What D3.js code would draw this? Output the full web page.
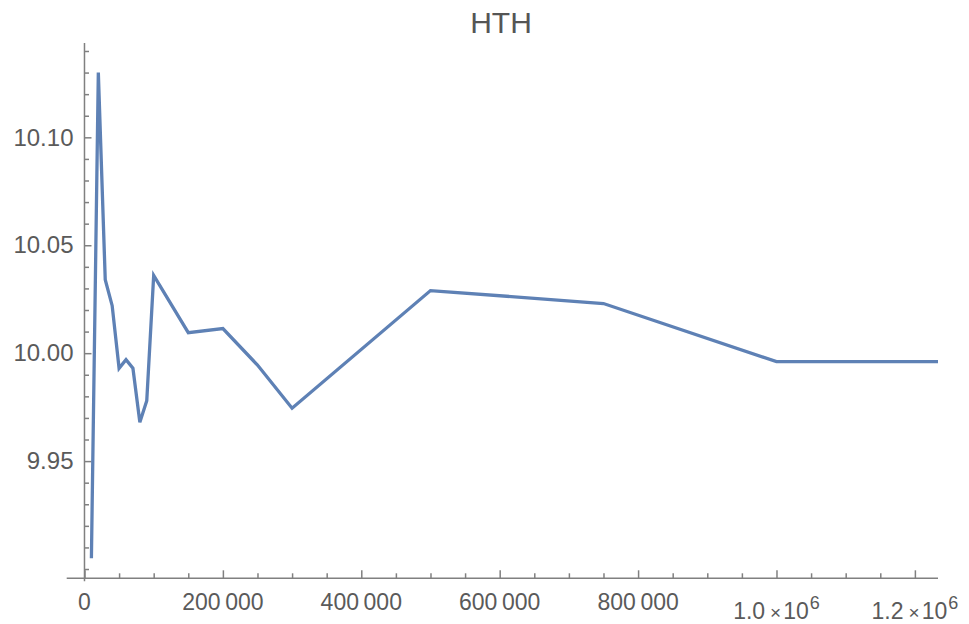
<!DOCTYPE html>
<html>
<head>
<meta charset="utf-8">
<script src="https://cdn.jsdelivr.net/npm/d3@7"></script>
<style>
  html, body { margin: 0; padding: 0; background: #fff; }
  svg { display: block; font-family: "Liberation Sans", Arial, sans-serif; }
</style>
</head>
<body>
<svg id="chart" width="969" height="624"></svg>
<script>
var d3 = globalThis.d3;

// data
const sampleSizes = [10000, 20000, 30000, 40000, 50000, 60000, 70000, 80000, 90000, 100000,
    150000, 200000, 250000, 300000, 500000, 750000, 1000000, 1250000];
const hthValues = [9.905, 10.130, 10.034, 10.022, 9.993, 9.997, 9.993, 9.968, 9.978, 10.036,
    10.0095, 10.0114, 9.9945, 9.9745, 10.029, 10.023, 9.9961, 9.9961];

const xMajorTicks = [0, 200000, 400000, 600000, 800000, 1000000, 1200000];
const xTickLabels = ["0", "200\u2009000", "400\u2009000", "600\u2009000", "800\u2009000", "1.0|6", "1.2|6"];
const xMinorTicks = [50000, 100000, 150000, 250000, 300000, 350000, 450000, 500000, 550000,
    650000, 700000, 750000, 850000, 900000, 950000, 1050000, 1100000, 1150000];
const yMajorTicks = [9.95, 10.00, 10.05, 10.10];
const yTickLabels = ["9.95", "10.00", "10.05", "10.10"];
const yMinorTicks = [9.90, 9.91, 9.92, 9.93, 9.94, 9.96, 9.97, 9.98, 9.99, 10.01, 10.02, 10.03,
    10.04, 10.06, 10.07, 10.08, 10.09, 10.11, 10.12, 10.13, 10.14];

const lineColor = "#5e81b5";
const axisColor = "#808080";
const textColor = "#5a5a5a";

const svg = d3.select("#chart");

const x = d3.scaleLinear().domain([-25700, 1233400]).range([66.7, 938]);
const y = d3.scaleLinear().domain([9.8957, 10.1437]).range([578.3, 43]);

const axisY = x(0);       // where the vertical axis sits
const axisX = y(9.8957);  // where the horizontal axis sits

// clip the series to the plot range
svg.append("defs").append("clipPath").attr("id", "plotClip")
    .append("rect")
    .attr("x", x.range()[0]).attr("y", 0)
    .attr("width", x.range()[1] - x.range()[0]).attr("height", 624);

// x axis line + ticks
svg.append("line")
    .attr("x1", x.range()[0]).attr("x2", x.range()[1])
    .attr("y1", axisX).attr("y2", axisX)
    .attr("stroke", axisColor).attr("stroke-width", 1.5);

const xMinor = svg.append("g").attr("transform", "translate(0," + axisX + ")")
    .call(d3.axisBottom(x).tickValues(xMinorTicks).tickSize(-5).tickFormat(""));
const xMajor = svg.append("g").attr("transform", "translate(0," + axisX + ")")
    .call(d3.axisBottom(x).tickValues(xMajorTicks).tickSize(-8).tickFormat(""));

// y axis line + ticks
svg.append("line")
    .attr("x1", axisY).attr("x2", axisY)
    .attr("y1", y.range()[1]).attr("y2", axisX + 3)
    .attr("stroke", axisColor).attr("stroke-width", 1.5);

const yMinor = svg.append("g").attr("transform", "translate(" + axisY + ",0)")
    .call(d3.axisLeft(y).tickValues(yMinorTicks).tickSize(-4.5).tickFormat(""));
const yMajor = svg.append("g").attr("transform", "translate(" + axisY + ",0)")
    .call(d3.axisLeft(y).tickValues(yMajorTicks).tickSize(-7).tickPadding(11)
        .tickFormat((d, i) => yTickLabels[i]));

[xMinor, xMajor, yMinor, yMajor].forEach(g => {
    g.select(".domain").remove();
    g.selectAll(".tick line").attr("stroke", axisColor).attr("stroke-width", 1.5);
});

yMajor.selectAll(".tick text")
    .attr("fill", textColor)
    .style("font-size", "24px");

// x tick labels, including the 1.0×10^6 style ones
const xLabels = svg.append("g").selectAll("text")
    .data(xMajorTicks)
    .enter().append("text")
    .attr("x", d => x(d))
    .attr("text-anchor", "middle")
    .attr("fill", textColor)
    .style("font-size", "23px");

xLabels.each(function (d, i) {
    const t = d3.select(this);
    const lab = xTickLabels[i];
    if (lab.indexOf("|") < 0) {
        t.attr("y", axisX + 32).text(lab);
    } else {
        const parts = lab.split("|");
        t.attr("y", axisX + 41);
        t.append("tspan").text(parts[0]);
        t.append("tspan").attr("dx", 5).style("font-size", "19px").text("\u00d7");
        t.append("tspan").attr("dx", 2).text("10");
        t.append("tspan").attr("dx", 1).attr("dy", -10).style("font-size", "18px").text(parts[1]);
    }
});

// the series
const line = d3.line()
    .x((d, i) => x(sampleSizes[i]))
    .y(d => y(d));

svg.append("path")
    .datum(hthValues)
    .attr("clip-path", "url(#plotClip)")
    .attr("d", line)
    .attr("fill", "none")
    .attr("stroke", lineColor)
    .attr("stroke-width", 3.3)
    .attr("stroke-linejoin", "miter");

// title
svg.append("text")
    .attr("x", 501)
    .attr("y", 33)
    .attr("text-anchor", "middle")
    .attr("fill", "#555")
    .style("font-size", "30px")
    .text("HTH");
</script>
</body>
</html>
